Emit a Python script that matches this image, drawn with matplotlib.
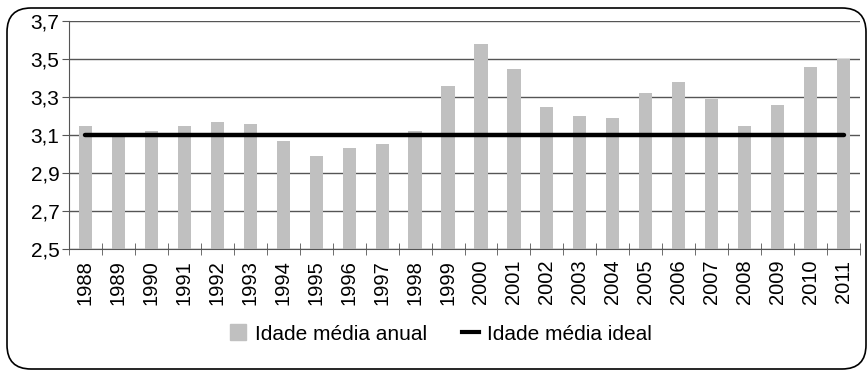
import matplotlib.pyplot as plt
import matplotlib.patches as mpatches
from matplotlib.lines import Line2D
import numpy as np

plt.rcParams['font.family'] = ['Liberation Sans', 'DejaVu Sans']

anos = ['1988', '1989', '1990', '1991', '1992', '1993', '1994', '1995',
        '1996', '1997', '1998', '1999', '2000', '2001', '2002', '2003',
        '2004', '2005', '2006', '2007', '2008', '2009', '2010', '2011']
idade_anual = [3.15, 3.10, 3.12, 3.15, 3.17, 3.16, 3.07, 2.99,
               3.03, 3.05, 3.12, 3.36, 3.58, 3.45, 3.25, 3.20,
               3.19, 3.32, 3.38, 3.29, 3.15, 3.26, 3.46, 3.50]
idade_ideal = [3.1] * len(anos)
y_ticks = [2.5, 2.7, 2.9, 3.1, 3.3, 3.5, 3.7]
y_labels = ['2,5', '2,7', '2,9', '3,1', '3,3', '3,5', '3,7']

fig = plt.figure(figsize=(8.68, 3.72), dpi=100)
ax = fig.add_axes([0.0795, 0.3315, 0.9113, 0.6112])

x = np.arange(len(anos))
ax.bar(x, np.array(idade_anual) - 2.5, bottom=2.5, width=0.4, color='#c0c0c0', zorder=2)
ax.plot(x, idade_ideal, color='black', lw=3.2, solid_capstyle='round', zorder=3)

ax.set_xlim(-0.5, len(anos) - 0.5)
ax.set_ylim(2.5, 3.7)
ax.set_yticks(y_ticks)
ax.set_yticklabels(y_labels, fontsize=15)
ax.set_xticks(x)
ax.set_xticklabels(anos, rotation=90, fontsize=14.5)
ax.tick_params(axis='x', length=0, pad=8)
ax.set_xticks(np.arange(-0.5, len(anos)), minor=True)
ax.tick_params(axis='x', which='minor', direction='inout', length=8, color='#555555')
ax.tick_params(axis='y', direction='out', length=5, color='#555555', pad=2)

ax.grid(axis='y', color='#555555', lw=1, zorder=1)
for s in ['top', 'right']:
    ax.spines[s].set_visible(False)
for s in ['left', 'bottom']:
    ax.spines[s].set_color('#555555')

handles = [mpatches.Patch(color='#c0c0c0'),
           Line2D([0], [0], color='black', lw=3)]
fig.legend(handles, ['Idade média anual', 'Idade média ideal'],
           loc='center', bbox_to_anchor=(0.508, 0.102), ncol=2, frameon=False,
           fontsize=15, handlelength=0.8, handleheight=0.8, handletextpad=0.4,
           columnspacing=1.7)

border = mpatches.FancyBboxPatch((7, 3), 859, 361, boxstyle='round,pad=0,rounding_size=24',
                                 transform=None, fill=False, ec='black', lw=1.2)
fig.patches.append(border)

fig.savefig('out.png', dpi=100)
